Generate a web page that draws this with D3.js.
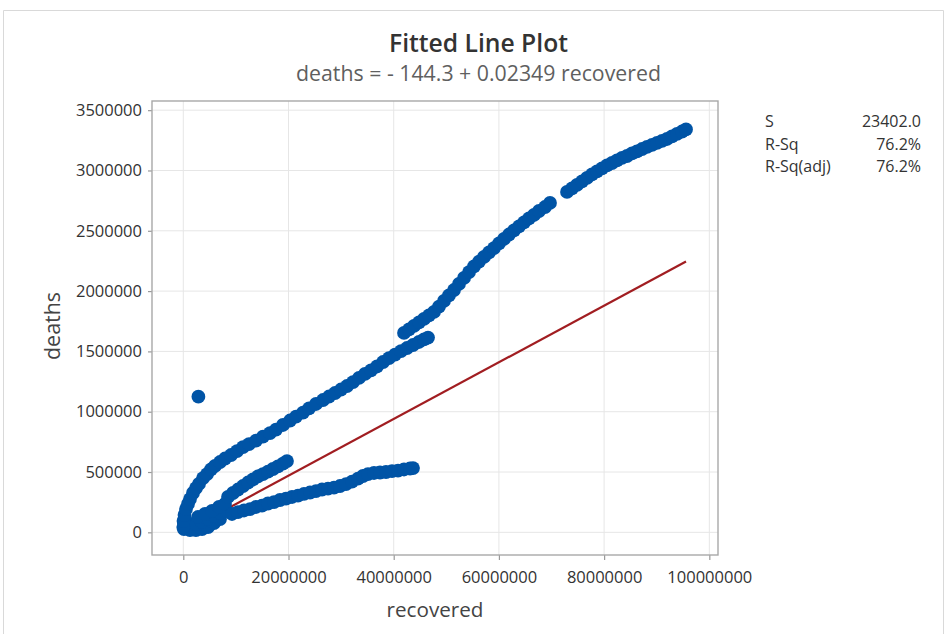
<!DOCTYPE html>
<html><head><meta charset="utf-8">
<script src="https://cdn.jsdelivr.net/npm/d3@7"></script>
<style>body{margin:0;background:#fff}svg{display:block}</style>
</head><body>
<svg id="chart" width="946" height="634"></svg>
<script>
// ---------- text ----------
const titleText = "Fitted Line Plot";
const subtitleText = "deaths = - 144.3 + 0.02349 recovered";
const xLabelText = "recovered";
const yLabelText = "deaths";
const fitIntercept = -144.3;
const fitSlope = 0.02349;
const statLabels = ["S", "R-Sq", "R-Sq(adj)"];
const statValues = ["23402.0", "76.2%", "76.2%"];

// ---------- tick labels ----------
const xTicks = [0, 20000000, 40000000, 60000000, 80000000, 100000000];
const yTicks = [0, 500000, 1000000, 1500000, 2000000, 2500000, 3000000, 3500000];

// ---------- data (recovered in millions, deaths in thousands) ----------
const clusterRecoveredM = [0.13,1.27,2.41,3.56,4.70,5.84,6.98, 0.13,1.27,2.41,3.56,4.70,5.84,6.98,8.12, 2.80,4.13,5.46,6.79,7.93];
const clusterDeathsK    = [27,19,19,27,44,77,110, 85,69,69,85,110,135,160,177, 127,152,177,210,235];

const upperRecoveredM = [0,0.04,0.23,0.51,0.89,1.27,1.84,2.41,2.98,3.75,4.51,5.27,6.03,6.98,7.93,9.07,10.21,11.35,12.49,13.82,15.15,16.48,17.62,18.95,20.29,21.43,22.76,23.90,25.23,26.56,27.70,28.84,29.98,31.12,32.26,33.40,34.54,35.68,36.83,37.97,39.11,40.25,41.39,42.53,43.67,44.81,45.76,46.52];
const upperDeathsK    = [44,94,144,193,235,276,326,367,401,450,483,521,550,583,612,641,674,707,732,761,794,823,852,890,927,960,993,1027,1064,1097,1126,1155,1184,1213,1246,1280,1313,1342,1375,1412,1445,1474,1503,1528,1553,1578,1599,1615];

const topARecoveredM = [41.96,42.91,43.86,44.81,45.76,46.71,47.66,48.61,49.56,50.51,51.46,52.41,53.37,54.32,55.27,56.22,57.17,58.12,59.07,60.02,60.97,61.92,62.87,63.82,64.77,65.72,66.67,67.62,68.76,69.71];
const topADeathsK    = [1653,1682,1711,1740,1769,1798,1827,1872,1918,1964,2009,2059,2109,2158,2204,2245,2283,2320,2357,2395,2432,2469,2503,2536,2569,2602,2631,2664,2697,2731];

const topBRecoveredM = [72.95,73.90,74.85,75.80,76.75,77.70,78.65,79.60,80.55,81.50,82.45,83.40,84.35,85.30,86.25,87.21,88.16,89.11,90.06,91.01,91.96,92.91,93.86,94.81,95.57];
const topBDeathsK    = [2822,2851,2880,2909,2938,2967,2992,3017,3042,3062,3083,3104,3120,3141,3158,3178,3195,3212,3228,3245,3261,3282,3303,3323,3340];

const midRecoveredM = [8.50,9.45,10.40,11.35,12.30,13.25,14.20,15.15,16.10,17.05,18.00,18.95,19.71];
const midDeathsK    = [293,326,355,384,413,438,463,483,504,525,546,570,591];

const lowRecoveredM = [9.26,10.40,11.54,12.68,13.82,14.96,16.10,17.24,18.38,19.52,20.67,21.81,22.95,24.09,25.23,26.37,27.51,28.65,29.79,30.93,32.07,33.21,34.16,35.11,36.25,37.40,38.54,39.68,40.82,41.96,43.10,43.67];
const lowDeathsK    = [152,168,181,193,210,222,239,251,268,280,293,305,318,330,342,355,363,371,384,400,421,446,467,483,492,496,500,508,512,521,529,533];

const outlierRecoveredM = [2.87];
const outlierDeathsK    = [1125];

// ---------- build points ----------
const branches = [
  [clusterRecoveredM, clusterDeathsK],
  [upperRecoveredM, upperDeathsK],
  [topARecoveredM, topADeathsK],
  [topBRecoveredM, topBDeathsK],
  [midRecoveredM, midDeathsK],
  [lowRecoveredM, lowDeathsK],
  [outlierRecoveredM, outlierDeathsK]
];
const points = [];
branches.forEach(([rx, dy]) => rx.forEach((r, i) => points.push({recovered: r * 1e6, deaths: dy[i] * 1e3})));

// ---------- layout ----------
const svg = d3.select("#chart");
const plot = {left: 152, right: 718, top: 101, bottom: 555};
const x = d3.scaleLinear().domain([-5.95e6, 101.65e6]).range([plot.left, plot.right]);
const y = d3.scaleLinear().domain([-188000, 3576000]).range([plot.bottom, plot.top]);
const FONT = "'Open Sans', 'Noto Sans', sans-serif";

// outer panel border
svg.append("path").attr("d", "M3.5,634 V10.5 H943.5 V634").attr("fill", "none").attr("stroke", "#d9d9d9").attr("stroke-width", 1);

function fit(sel, target) {
  const w = sel.node().getComputedTextLength();
  const fs = parseFloat(sel.attr("font-size"));
  sel.attr("font-size", (fs * target / w).toFixed(2));
}

// title
const t1 = svg.append("text").attr("x", 478.5).attr("y", 52).attr("text-anchor", "middle")
  .attr("font-family", FONT).attr("font-weight", 600).attr("font-size", 22).attr("fill", "#333").text(titleText);
fit(t1, 179);
const t2 = svg.append("text").attr("x", 478.5).attr("y", 81).attr("text-anchor", "middle")
  .attr("font-family", FONT).attr("font-size", 18).attr("fill", "#5f5f5f").text(subtitleText);
fit(t2, 365);

// gridlines
const grid = svg.append("g");
grid.selectAll("line.gx").data(xTicks).join("line")
  .attr("class", "gx")
  .attr("x1", d => x(d)).attr("x2", d => x(d)).attr("y1", plot.top).attr("y2", plot.bottom)
  .attr("stroke", "#e6e6e6").attr("stroke-width", 1);
grid.selectAll("line.gy").data(yTicks).join("line")
  .attr("class", "gy")
  .attr("y1", d => y(d)).attr("y2", d => y(d)).attr("x1", plot.left).attr("x2", plot.right)
  .attr("stroke", "#e6e6e6").attr("stroke-width", 1);

// axes
const xAxis = svg.append("g").attr("transform", `translate(0,${plot.bottom})`)
  .call(d3.axisBottom(x).tickValues(xTicks).tickFormat(d3.format("d")).tickSize(5).tickPadding(11));
const yAxis = svg.append("g").attr("transform", `translate(${plot.left},0)`)
  .call(d3.axisLeft(y).tickValues(yTicks).tickFormat(d3.format("d")).tickSize(4).tickPadding(6));
[xAxis, yAxis].forEach(a => {
  a.select(".domain").remove();
  a.selectAll(".tick line").attr("stroke", "#9a9a9a").attr("stroke-width", 1.2);
  a.selectAll(".tick text").attr("font-family", FONT).attr("font-size", 16.5).attr("fill", "#333");
});

// frame
svg.append("rect").attr("x", plot.left).attr("y", plot.top)
  .attr("width", plot.right - plot.left).attr("height", plot.bottom - plot.top)
  .attr("fill", "none").attr("stroke", "#a8a8a8").attr("stroke-width", 1.4);

// fitted line
const xExt = d3.extent(points, d => d.recovered);
svg.append("line")
  .attr("x1", x(xExt[0])).attr("y1", y(fitIntercept + fitSlope * xExt[0]))
  .attr("x2", x(xExt[1])).attr("y2", y(fitIntercept + fitSlope * xExt[1]))
  .attr("stroke", "#a11d21").attr("stroke-width", 2.2);

// points
svg.append("g").selectAll("circle").data(points).join("circle")
  .attr("cx", d => x(d.recovered)).attr("cy", d => y(d.deaths)).attr("r", 6.9)
  .attr("fill", "#0054a6");

// axis titles
const xl = svg.append("text").attr("x", (plot.left + plot.right) / 2).attr("y", 617).attr("text-anchor", "middle")
  .attr("font-family", FONT).attr("font-size", 20).attr("fill", "#444").text(xLabelText);
fit(xl, 97);
const yl = svg.append("text").attr("transform", "translate(60,326) rotate(-90)").attr("text-anchor", "middle")
  .attr("font-family", FONT).attr("font-size", 20).attr("fill", "#444").text(yLabelText);
fit(yl, 68);

// stats
const statY = [127, 149.5, 172];
svg.append("g").selectAll("text").data(statLabels).join("text")
  .attr("x", 765).attr("y", (d, i) => statY[i]).attr("font-family", FONT).attr("font-size", 16)
  .attr("fill", "#333").text(d => d);
svg.append("g").selectAll("text").data(statValues).join("text")
  .attr("x", 921).attr("y", (d, i) => statY[i]).attr("text-anchor", "end").attr("font-family", FONT).attr("font-size", 16)
  .attr("fill", "#333").text(d => d);
</script>
</body></html>
